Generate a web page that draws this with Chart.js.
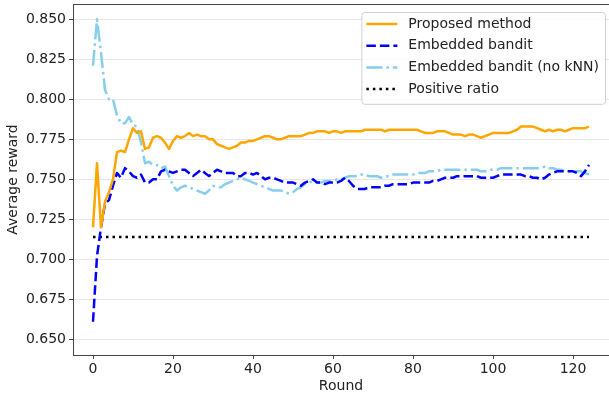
<!DOCTYPE html>
<html>
<head>
<meta charset="utf-8">
<script src="https://cdn.jsdelivr.net/npm/chart.js@4/dist/chart.umd.min.js"></script>
<style>
    body { margin: 0; background: #fff; overflow: hidden; }
    #chart { display: block; }
</style>
</head>
<body>
<canvas id="chart" width="609" height="396"></canvas>
<script>
// values, one per round (0..124)
var proposedMethod = [
    0.720, 0.760, 0.720, 0.736, 0.742, 0.750, 0.767, 0.768, 0.767, 0.775,
    0.782, 0.779, 0.780, 0.769, 0.770, 0.776, 0.777, 0.776, 0.773, 0.769,
    0.774, 0.777, 0.776, 0.777, 0.779, 0.777, 0.778, 0.777, 0.777, 0.775,
    0.775, 0.772, 0.771, 0.770, 0.769, 0.770, 0.771, 0.773, 0.773, 0.774,
    0.774, 0.775, 0.776, 0.777, 0.777, 0.776, 0.775, 0.775, 0.776, 0.777,
    0.777, 0.777, 0.777, 0.778, 0.779, 0.779, 0.780, 0.780, 0.780, 0.779,
    0.780, 0.780, 0.779, 0.780, 0.780, 0.780, 0.780, 0.780, 0.781, 0.781,
    0.781, 0.781, 0.781, 0.780, 0.781, 0.781, 0.781, 0.781, 0.781, 0.781,
    0.781, 0.781, 0.780, 0.779, 0.779, 0.779, 0.780, 0.780, 0.780, 0.779,
    0.778, 0.778, 0.778, 0.777, 0.778, 0.778, 0.777, 0.776, 0.777, 0.778,
    0.779, 0.779, 0.779, 0.779, 0.779, 0.780, 0.781, 0.783, 0.783, 0.783,
    0.783, 0.782, 0.781, 0.780, 0.781, 0.780, 0.781, 0.781, 0.780, 0.781,
    0.782, 0.782, 0.782, 0.782, 0.783
];
var embeddedBandit = [
    0.661, 0.702, 0.720, 0.735, 0.737, 0.746, 0.754, 0.751, 0.757, 0.755,
    0.752, 0.751, 0.753, 0.748, 0.748, 0.750, 0.750, 0.755, 0.756, 0.755,
    0.754, 0.755, 0.756, 0.756, 0.754, 0.752, 0.754, 0.756, 0.754, 0.752,
    0.754, 0.756, 0.755, 0.754, 0.754, 0.754, 0.752, 0.752, 0.754, 0.754,
    0.753, 0.754, 0.752, 0.750, 0.751, 0.751, 0.750, 0.749, 0.748, 0.748,
    0.748, 0.747, 0.746, 0.748, 0.749, 0.750, 0.748, 0.748, 0.747, 0.748,
    0.748, 0.748, 0.749, 0.751, 0.749, 0.746, 0.744, 0.744, 0.744, 0.745,
    0.745, 0.745, 0.745, 0.746, 0.746, 0.747, 0.747, 0.747, 0.747, 0.747,
    0.748, 0.748, 0.748, 0.748, 0.748, 0.749, 0.749, 0.750, 0.751, 0.751,
    0.751, 0.752, 0.752, 0.752, 0.752, 0.752, 0.752, 0.751, 0.751, 0.751,
    0.751, 0.752, 0.753, 0.753, 0.753, 0.753, 0.753, 0.753, 0.752, 0.752,
    0.751, 0.751, 0.750, 0.751, 0.753, 0.754, 0.755, 0.755, 0.755, 0.755,
    0.755, 0.754, 0.752, 0.755, 0.759
];
var embeddedBanditNoKnn = [
    0.821, 0.850, 0.829, 0.806, 0.800, 0.800, 0.790, 0.785, 0.785, 0.789,
    0.784, 0.783, 0.773, 0.760, 0.761, 0.759, 0.759, 0.757, 0.758, 0.752,
    0.746, 0.743, 0.745, 0.746, 0.745, 0.744, 0.743, 0.742, 0.741, 0.743,
    0.746, 0.745, 0.745, 0.747, 0.748, 0.749, 0.750, 0.751, 0.750, 0.749,
    0.748, 0.747, 0.746, 0.745, 0.744, 0.743, 0.743, 0.743, 0.742, 0.741,
    0.742, 0.744, 0.745, 0.747, 0.748, 0.749, 0.748, 0.748, 0.749, 0.749,
    0.749, 0.750, 0.750, 0.751, 0.752, 0.752, 0.752, 0.753, 0.753, 0.752,
    0.752, 0.752, 0.751, 0.752, 0.752, 0.753, 0.753, 0.753, 0.753, 0.753,
    0.753, 0.754, 0.754, 0.754, 0.755, 0.755, 0.755, 0.756, 0.756, 0.756,
    0.756, 0.756, 0.756, 0.756, 0.756, 0.756, 0.756, 0.755, 0.755, 0.756,
    0.756, 0.756, 0.757, 0.757, 0.757, 0.757, 0.757, 0.757, 0.757, 0.757,
    0.757, 0.757, 0.757, 0.758, 0.757, 0.757, 0.756, 0.756, 0.755, 0.755,
    0.755, 0.755, 0.755, 0.754, 0.753
];
// flat reference line, drawn from first to last round
var positiveRatioRounds = [0, 124];
var positiveRatio = [0.714, 0.714];

var seriesLabels = ["Proposed method", "Embedded bandit", "Embedded bandit (no kNN)", "Positive ratio"];
var xTicks = [0, 20, 40, 60, 80, 100, 120];
var yTicks = [0.650, 0.675, 0.700, 0.725, 0.750, 0.775, 0.800, 0.825, 0.850];

function toPoints(values, rounds) {
    return values.map(function (v, i) {
        return { x: rounds ? rounds[i] : i, y: v };
    });
}

Chart.defaults.font.family = "'DejaVu Sans', sans-serif";
Chart.defaults.font.size = 14;
Chart.defaults.color = "#222";

// matplotlib style legend box inside the upper right corner, plus top spine
var boxLegend = {
    id: "boxLegend",
    afterDraw: function (chart) {
        var ctx = chart.ctx;
        var area = chart.chartArea;
        ctx.save();
        // top spine
        ctx.strokeStyle = "#444";
        ctx.lineWidth = 1;
        ctx.beginPath();
        ctx.moveTo(area.left, area.top + 0.5);
        ctx.lineTo(area.right, area.top + 0.5);
        ctx.stroke();

        ctx.font = "14px 'DejaVu Sans'";
        var rowH = 21.7;
        var lineLen = 31;
        var maxW = 0;
        chart.data.datasets.forEach(function (ds) {
            maxW = Math.max(maxW, ctx.measureText(ds.label).width);
        });
        var boxW = 5 + lineLen + 11 + maxW + 6;
        var boxH = rowH * chart.data.datasets.length + 5;
        var bx = area.right - 4 - boxW;
        var by = area.top + 8;

        ctx.beginPath();
        ctx.roundRect(bx + 0.5, by + 0.5, boxW, boxH, 3);
        ctx.fillStyle = "rgba(255,255,255,0.8)";
        ctx.fill();
        ctx.strokeStyle = "#d0d0d0";
        ctx.stroke();

        chart.data.datasets.forEach(function (ds, i) {
            var cy = by + 12 + i * rowH;
            ctx.strokeStyle = ds.borderColor;
            ctx.lineWidth = ds.borderWidth;
            ctx.setLineDash(ds.borderDash || []);
            ctx.beginPath();
            ctx.moveTo(bx + 5, cy);
            ctx.lineTo(bx + 5 + lineLen, cy);
            ctx.stroke();
            ctx.setLineDash([]);
            ctx.fillStyle = "#222";
            ctx.textBaseline = "middle";
            ctx.textAlign = "left";
            ctx.fillText(ds.label, bx + 5 + lineLen + 11, cy);
        });
        ctx.restore();
    },
};

var ctx = document.getElementById("chart").getContext("2d");
var chart = new Chart(ctx, {
    type: "line",
    data: {
        datasets: [
            {
                label: seriesLabels[0],
                data: toPoints(proposedMethod),
                borderColor: "#ffa500",
                borderWidth: 2.5,
            },
            {
                label: seriesLabels[1],
                data: toPoints(embeddedBandit),
                borderColor: "#0000ff",
                borderWidth: 2.5,
                borderDash: [9.5, 4],
            },
            {
                label: seriesLabels[2],
                data: toPoints(embeddedBanditNoKnn),
                borderColor: "#87ceeb",
                borderWidth: 2.5,
                borderDash: [16, 4, 2.5, 4],
            },
            {
                label: seriesLabels[3],
                data: toPoints(positiveRatio, positiveRatioRounds),
                borderColor: "#000000",
                borderWidth: 2.5,
                borderDash: [2.5, 4],
            },
        ],
    },
    options: {
        responsive: false,
        animation: false,
        devicePixelRatio: 1,
        layout: { padding: { top: 4, right: 0, bottom: 0, left: 0 } },
        elements: {
            point: { radius: 0 },
            line: { tension: 0, borderCapStyle: "butt", borderJoinStyle: "round" },
        },
        plugins: {
            legend: { display: false },
            tooltip: { enabled: false },
        },
        scales: {
            x: {
                type: "linear",
                min: -5,
                max: 129,
                afterBuildTicks: function (scale) {
                    scale.ticks = xTicks.map(function (v) { return { value: v }; });
                },
                afterFit: function (scale) {
                    scale.height = 41;
                    scale.paddingLeft = 0;
                    scale.paddingRight = 0;
                },
                grid: {
                    drawOnChartArea: false,
                    drawTicks: true,
                    tickLength: 4,
                    tickColor: "#444",
                },
                border: { color: "#444", width: 1 },
                ticks: { padding: 2, maxRotation: 0, color: "#222" },
                title: {
                    display: true,
                    text: "Round",
                    color: "#222",
                    padding: { top: 0, bottom: 1 },
                },
            },
            y: {
                min: 0.6402,
                max: 0.8596,
                afterBuildTicks: function (scale) {
                    scale.ticks = yTicks.map(function (v) { return { value: v }; });
                },
                afterFit: function (scale) {
                    scale.width = 73;
                    scale.paddingTop = 0;
                    scale.paddingBottom = 0;
                },
                grid: {
                    color: "#e6e6e6",
                    lineWidth: 1,
                    drawTicks: true,
                    tickLength: 4,
                    tickColor: "#444",
                },
                border: { color: "#444", width: 1 },
                ticks: {
                    padding: 3,
                    color: "#222",
                    callback: function (v) { return v.toFixed(3); },
                },
                title: {
                    display: true,
                    text: "Average reward",
                    color: "#222",
                    padding: { top: 5, bottom: 0 },
                },
            },
        },
    },
    plugins: [boxLegend],
});
</script>
</body>
</html>
